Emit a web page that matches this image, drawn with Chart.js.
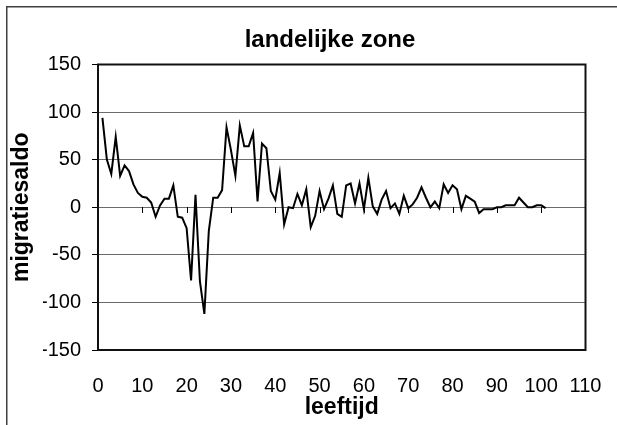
<!DOCTYPE html>
<html>
<head>
<meta charset="utf-8">
<script src="https://cdn.jsdelivr.net/npm/chart.js@4.4.0/dist/chart.umd.min.js"></script>
<style>
	html, body { margin: 0; padding: 0; background: #fff; }
	#wrap { width: 617px; height: 425px; }
</style>
</head>
<body>
<div id="wrap"><canvas id="myChart" width="617" height="425"></canvas></div>
<script>
const chartTitle = "landelijke zone";
const xTitle = "leeftijd";
const yTitle = "migratiesaldo";

const ages = [
	1, 2, 3, 4, 5, 6, 7, 8, 9, 10,
	11, 12, 13, 14, 15, 16, 17, 18, 19, 20,
	21, 22, 23, 24, 25, 26, 27, 28, 29, 30,
	31, 32, 33, 34, 35, 36, 37, 38, 39, 40,
	41, 42, 43, 44, 45, 46, 47, 48, 49, 50,
	51, 52, 53, 54, 55, 56, 57, 58, 59, 60,
	61, 62, 63, 64, 65, 66, 67, 68, 69, 70,
	71, 72, 73, 74, 75, 76, 77, 78, 79, 80,
	81, 82, 83, 84, 85, 86, 87, 88, 89, 90,
	91, 92, 93, 94, 95, 96, 97, 98, 99, 100,
	101
];
const saldo = [
	94, 50, 35, 74, 33, 44, 38, 24, 15, 11,
	10, 5, -10, 2, 9, 9, 23, -10, -11, -22,
	-77, 13, -78, -112, -25, 10, 10, 18, 84, 60,
	33, 86, 64, 64, 78, 6, 67, 62, 17, 8,
	36, -18, 0, -1, 14, 2, 19, -21, -9, 17,
	-2, 9, 23, -7, -10, 23, 25, 4, 25, -2,
	31, 1, -7, 8, 17, -1, 4, -7, 12, -1,
	3, 10, 21, 10, 0, 6, -1, 24, 15, 23,
	19, -2, 12, 9, 6, -6, -2, -2, -2, 0,
	0, 2, 2, 2, 10, 5, 0, 0, 2, 2,
	-1
];
const xTickValues = [0, 10, 20, 30, 40, 50, 60, 70, 80, 90, 100, 110];
const yTickValues = [-150, -100, -50, 0, 50, 100, 150];

const fontFamily = "'Liberation Sans', Arial, sans-serif";

// outer frame, plot frame and the little ticks on the zero line
const frames = {
	id: "frames",
	beforeDraw(chart) {
		const ctx = chart.ctx;
		ctx.save();
		ctx.fillStyle = "#fff";
		ctx.fillRect(0, 0, chart.width, chart.height);
		ctx.strokeStyle = "#404040";
		ctx.lineWidth = 1.5;
		ctx.strokeRect(6.75, 6.75, chart.width + 20, chart.height + 20);
		ctx.restore();
	},
	beforeDatasetsDraw(chart) {
		const { ctx, chartArea: a, scales: { x, y } } = chart;
		ctx.save();
		const y0 = Math.round(y.getPixelForValue(0));
		ctx.strokeStyle = "#000";
		ctx.lineWidth = 1;
		x.ticks.forEach(t => {
			if (t.value <= x.min || t.value >= x.max) return;
			const px = Math.round(x.getPixelForValue(t.value)) + 0.5;
			ctx.beginPath();
			ctx.moveTo(px, y0);
			ctx.lineTo(px, y0 + 6);
			ctx.stroke();
		});
		ctx.strokeStyle = "#111";
		ctx.lineWidth = 2;
		ctx.strokeRect(a.left, a.top, a.right - a.left, a.bottom - a.top);
		ctx.restore();
	}
};

new Chart(document.getElementById("myChart"), {
	type: "line",
	data: {
		datasets: [{
			data: ages.map((a, i) => ({ x: a, y: saldo[i] })),
			borderColor: "#000",
			borderWidth: 2,
			pointRadius: 0,
			tension: 0,
			fill: false
		}]
	},
	options: {
		responsive: false,
		animation: false,
		devicePixelRatio: 1,
		// left padding shifts the centred title to where Excel put it
		layout: { padding: { left: 43, right: 0, top: 0, bottom: 0 } },
		plugins: {
			legend: { display: false },
			tooltip: { enabled: false },
			title: {
				display: true,
				text: chartTitle,
				color: "#000",
				font: { family: fontFamily, size: 24, weight: "bold" },
				padding: { top: 25.6, bottom: 10.1 }
			}
		},
		scales: {
			x: {
				type: "linear",
				min: 0,
				max: 110,
				afterBuildTicks: s => { s.ticks = xTickValues.map(v => ({ value: v })); },
				afterFit: s => { s.height = 75; s.paddingRight = 31.5; s.paddingLeft = 0; },
				grid: { display: false, drawTicks: false },
				border: { display: false },
				ticks: {
					color: "#000",
					padding: 24,
					maxRotation: 0,
					autoSkip: false,
					font: { family: fontFamily, size: 20 }
				},
				title: {
					display: true,
					text: xTitle,
					color: "#000",
					font: { family: fontFamily, size: 23, weight: "bold" },
					padding: { top: 0, bottom: 3.2 }
				}
			},
			y: {
				min: -150,
				max: 150,
				afterBuildTicks: s => { s.ticks = yTickValues.map(v => ({ value: v })); },
				afterFit: s => { s.width = 55; s.paddingTop = 0; s.paddingBottom = 0; },
				grid: {
					color: "#6b6b6b",
					lineWidth: 1,
					tickColor: "#000",
					tickLength: 6
				},
				border: { color: "#111", width: 2 },
				ticks: {
					color: "#000",
					padding: 11,
					font: { family: fontFamily, size: 20 }
				},
				title: {
					display: true,
					text: yTitle,
					color: "#000",
					font: { family: fontFamily, size: 23, weight: "bold" },
					padding: { top: -34.8, bottom: 0 }
				}
			}
		}
	},
	plugins: [frames]
});
</script>
</body>
</html>
